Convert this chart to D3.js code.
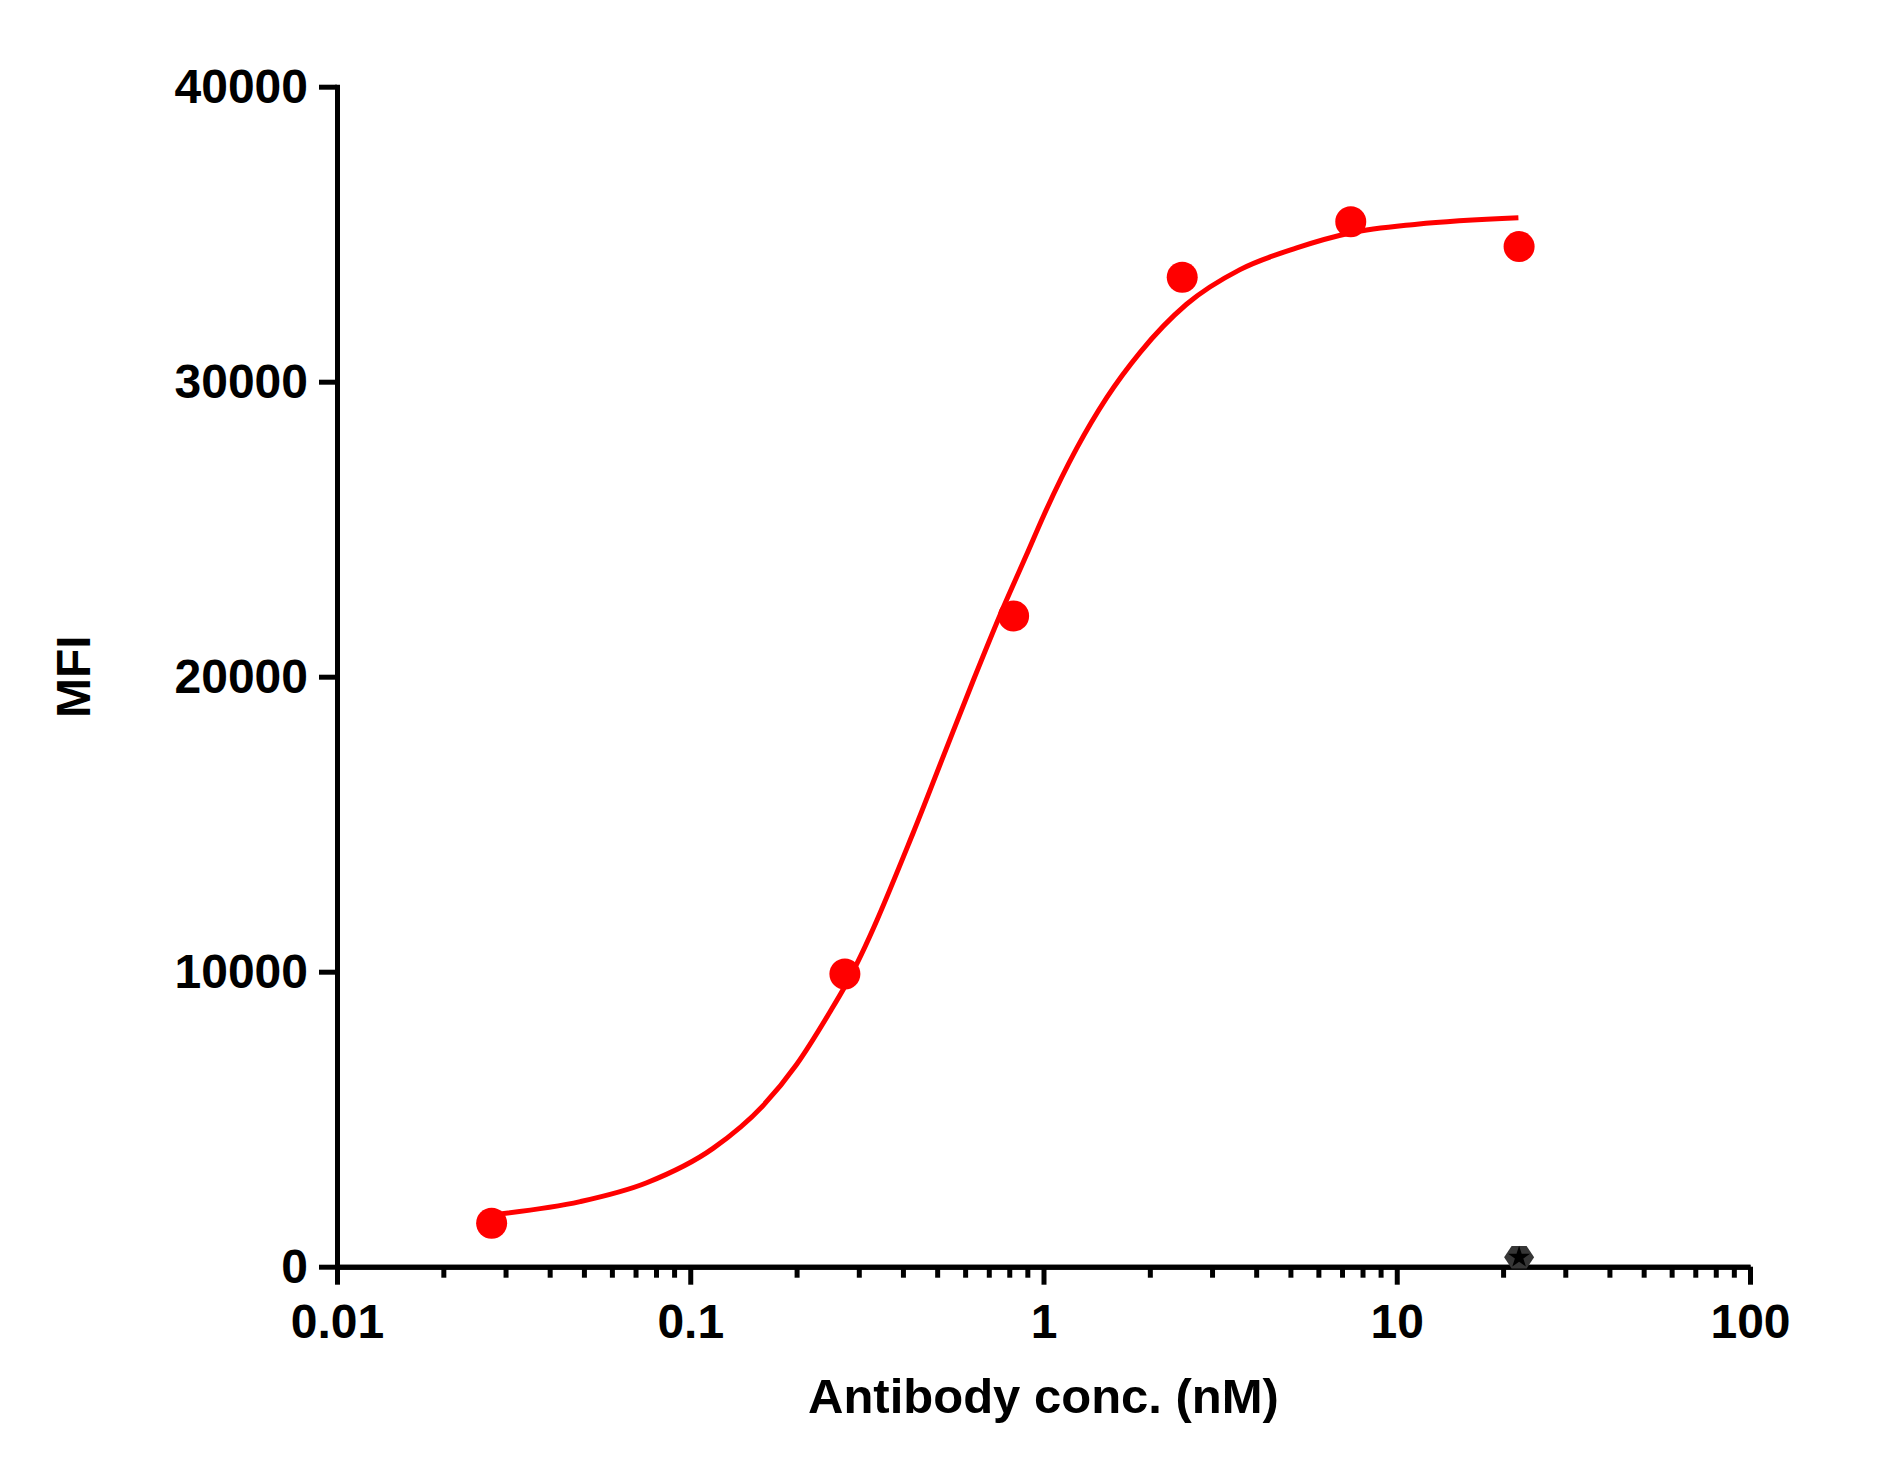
<!DOCTYPE html>
<html>
<head>
<meta charset="utf-8">
<script src="https://cdn.jsdelivr.net/npm/d3@7"></script>
<style>
  body { margin: 0; background: #fff; }
  svg text { font-family: Arial, "Liberation Sans", sans-serif; font-weight: bold; fill: #000; }
</style>
</head>
<body>
<div id="chart"></div>
<script>
// measured points (antibody, nM vs MFI)
const conc = [0.0274, 0.274, 0.823, 2.47, 7.41, 22.2];
const mfi = [1470, 9920, 22060, 33540, 35420, 34580];

// isotype control
const ctrlConc = [22.2];
const ctrlMfi = [320];

// fitted curve
const fitConc = [0.0277, 0.0488, 0.0753, 0.116, 0.161, 0.200, 0.249, 0.277, 0.428, 0.520, 0.633, 0.753,
  0.896, 1.00, 1.24, 1.51, 1.88, 2.54, 3.60, 5.21, 7.38, 11.4, 22.1];
const fitMfi = [1765, 2205, 2845, 4010, 5470, 6855, 8650, 9600, 14720, 17290, 19880, 22085,
  24140, 25450, 27730, 29460, 31005, 32625, 33800, 34535, 35040, 35340, 35560];

const xTicks = [0.01, 0.1, 1, 10, 100];
const yTicks = [0, 10000, 20000, 30000, 40000];

const width = 1902, height = 1467;

const svg = d3.select('#chart')
  .append('svg')
  .attr('width', width)
  .attr('height', height);

const x = d3.scaleLog().domain([0.01, 100]).range([337, 1750]);
const y = d3.scaleLinear().domain([0, 40000]).range([1266.7, 86.7]);

// minor ticks 2..9 in each decade
const minorTicks = [];
xTicks.slice(0, -1).forEach(d => {
  for (let k = 2; k <= 9; k++) minorTicks.push(d * k);
});

const styleAxis = g => {
  g.selectAll('path, line').attr('stroke', '#000').attr('stroke-width', 5);
  g.selectAll('text').style('font-size', '48px').attr('fill', '#000');
};

svg.append('g')
  .attr('transform', 'translate(0,1266.7)')
  .call(d3.axisBottom(x).tickValues(minorTicks).tickSize(11).tickFormat('').tickSizeOuter(0))
  .call(styleAxis);

svg.append('g')
  .attr('transform', 'translate(0,1266.7)')
  .call(d3.axisBottom(x).tickValues(xTicks).tickSize(18).tickPadding(19)
    .tickFormat(d => String(d)).tickSizeOuter(0))
  .call(styleAxis);

svg.append('g')
  .attr('transform', 'translate(337,0)')
  .call(d3.axisLeft(y).tickValues(yTicks).tickSize(18).tickPadding(11)
    .tickFormat(d => String(d)).tickSizeOuter(0))
  .call(styleAxis)
  .call(g => g.select('.domain').attr('stroke-linecap', 'square'));

// axis titles
svg.append('text')
  .attr('x', 1043.5)
  .attr('y', 1413)
  .attr('text-anchor', 'middle')
  .style('font-size', '49px')
  .text('Antibody conc. (nM)');

svg.append('text')
  .attr('transform', 'translate(90,676.7) rotate(-90)')
  .attr('text-anchor', 'middle')
  .style('font-size', '48px')
  .text('MFI');

// fitted curve
const line = d3.line()
  .x(d => x(d[0]))
  .y(d => y(d[1]))
  .curve(d3.curveMonotoneX);

svg.append('path')
  .datum(fitConc.map((c, i) => [c, fitMfi[i]]))
  .attr('d', line)
  .attr('fill', 'none')
  .attr('stroke', '#ff0000')
  .attr('stroke-width', 5);

// data points
svg.selectAll('.dot')
  .data(conc.map((c, i) => [c, mfi[i]]))
  .join('circle')
  .attr('class', 'dot')
  .attr('cx', d => x(d[0]))
  .attr('cy', d => y(d[1]))
  .attr('r', 15.5)
  .attr('fill', '#ff0000');

// control: grey hexagon with black star
const hexPts = d3.range(6).map(i => {
  const a = Math.PI / 3 * i;
  return [15 * Math.cos(a), 13 * Math.sin(a)];
});

const ctrl = svg.selectAll('.ctrl')
  .data(ctrlConc.map((c, i) => [c, ctrlMfi[i]]))
  .join('g')
  .attr('class', 'ctrl')
  .attr('transform', d => `translate(${x(d[0])},${y(d[1])})`);

ctrl.append('polygon')
  .attr('points', hexPts.map(p => p.join(',')).join(' '))
  .attr('fill', '#363636');

ctrl.append('path')
  .attr('d', d3.symbol().type(d3.symbolStar).size(150)())
  .attr('fill', '#000');
</script>
</body>
</html>
